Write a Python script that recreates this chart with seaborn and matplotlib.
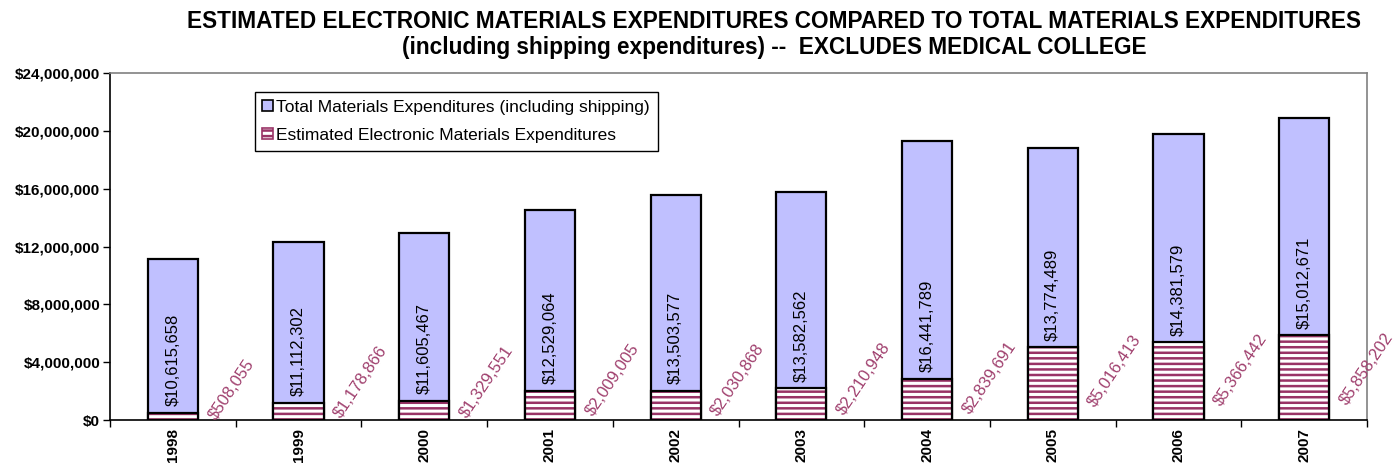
import matplotlib
matplotlib.use("Agg")
import matplotlib.pyplot as plt
import matplotlib.patches as mpatches
from matplotlib.ticker import FuncFormatter, MultipleLocator, FixedLocator
import seaborn as sns

# data
years = ['1998', '1999', '2000', '2001', '2002', '2003', '2004', '2005', '2006', '2007']
electronic = [508055, 1178866, 1329551, 2009005, 2030868, 2210948, 2839691, 5016413, 5366442, 5858202]
other = [10615658, 11112302, 11605467, 12529064, 13503577, 13582562, 16441789, 13774489, 14381579, 15012671]
total = [e + o for e, o in zip(electronic, other)]

blue = '#C0C0FF'
plum = '#993366'

sns.set_style('white')
plt.rcParams['font.family'] = ['Liberation Sans', 'DejaVu Sans']
plt.rcParams['text.color'] = 'black'
plt.rcParams['xtick.color'] = 'black'
plt.rcParams['ytick.color'] = 'black'
plt.rcParams['hatch.linewidth'] = 1.8

fig = plt.figure(figsize=(14, 4.67), dpi=100)
ax = fig.add_axes([0.0786, 0.1006, 0.8978, 0.7431])

# total bar (blue), then electronic part on top of it from zero
sns.barplot(x=years, y=total, color=blue, saturation=1, width=0.4,
            edgecolor='black', linewidth=1.6, errorbar=None, ax=ax)
sns.barplot(x=years, y=electronic, color='white', saturation=1, width=0.4,
            edgecolor=plum, hatch='---', linewidth=0, errorbar=None, ax=ax)
sns.barplot(x=years, y=electronic, color='black', saturation=1, width=0.4,
            fill=False, linewidth=1.6, errorbar=None, ax=ax)

# labels
for i in range(len(years)):
    ax.text(i, electronic[i] + 450000, f'${other[i]:,}', rotation=90,
            ha='center', va='bottom', fontsize=12, color='black')
    ax.text(i + 0.36, 0.2 * electronic[i] - 300000, f'${electronic[i]:,}', rotation=56,
            rotation_mode='anchor', ha='left', va='bottom', fontsize=12,
            color='#A0406E', clip_on=False)

ax.set_xlim(-0.5, 9.5)
ax.set_ylim(0, 24000000)
ax.yaxis.set_major_locator(MultipleLocator(4000000))
ax.yaxis.set_major_formatter(FuncFormatter(lambda v, p: f'${v:,.0f}'))
for lab in ax.get_yticklabels():
    lab.set_fontweight('bold')
    lab.set_fontsize(11)
ax.tick_params(axis='y', which='major', left=True, direction='out', length=5,
               width=1, color='black', pad=2)
ax.xaxis.set_minor_locator(FixedLocator([i + 0.5 for i in range(-1, 10)]))
ax.tick_params(axis='x', which='minor', bottom=True, direction='out', length=5,
               width=1, color='black')
ax.tick_params(axis='x', which='major', bottom=False, length=0, pad=6)
ax.set_xticks(range(len(years)))
ax.set_xticklabels(years, rotation=90, fontweight='bold', fontsize=11)

for side in ['left', 'bottom']:
    ax.spines[side].set_color('black')
    ax.spines[side].set_linewidth(1.2)
for side in ['top', 'right']:
    ax.spines[side].set_color('#808080')
    ax.spines[side].set_linewidth(1.2)

handles = [
    mpatches.Patch(facecolor=blue, edgecolor='black', linewidth=1.2,
                   label='Total Materials Expenditures (including shipping)'),
    mpatches.Patch(facecolor='white', edgecolor=plum, hatch='---', linewidth=1.2,
                   label='Estimated Electronic Materials Expenditures'),
]
leg = ax.legend(handles=handles, loc='upper left', bbox_to_anchor=(0.115, 0.945),
                fontsize=12.5, frameon=True, fancybox=False, framealpha=1,
                edgecolor='black', handlelength=0.6, handleheight=0.6,
                handletextpad=0.2, borderpad=0.45, labelspacing=0.75, borderaxespad=0)
leg.get_frame().set_linewidth(1.0)

fig.text(0.553, 0.955, 'ESTIMATED ELECTRONIC MATERIALS EXPENDITURES COMPARED TO TOTAL MATERIALS EXPENDITURES',
         ha='center', va='center', fontsize=16.3, fontweight='bold')
fig.text(0.553, 0.898, '(including shipping expenditures) --  EXCLUDES MEDICAL COLLEGE',
         ha='center', va='center', fontsize=16.3, fontweight='bold')

fig.savefig('out.png', dpi=100)
